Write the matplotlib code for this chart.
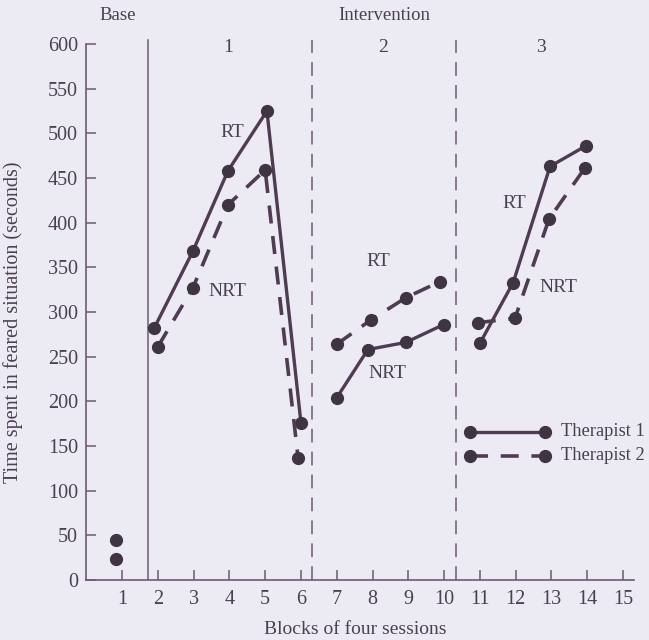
import matplotlib
matplotlib.use("Agg")
import matplotlib.pyplot as plt

# ---- data ----
base_x = [0.82, 0.82]
base_y = [45, 23]

t1_b1_x = [1.9, 2.98, 3.96, 5.05, 6.0]
t1_b1_y = [282, 368, 458, 525, 176]
t2_b1_x = [2.0, 2.98, 3.96, 5.0, 5.92]
t2_b1_y = [261, 327, 420, 459, 137]

t1_b2_x = [7.0, 7.87, 8.93, 9.99]
t1_b2_y = [204, 258, 266, 286]
t2_b2_x = [7.0, 7.95, 8.93, 9.88]
t2_b2_y = [264, 291, 316, 334]

t1_b3_x = [11.0, 11.93, 12.96, 13.96]
t1_b3_y = [265, 333, 463, 486]
t2_b3_x = [10.94, 11.98, 12.93, 13.93]
t2_b3_y = [288, 293, 404, 461]

yticks = list(range(0, 601, 50))
xticks = list(range(1, 16))
phase_lines = [1.73, 6.31, 10.33]

labels = [("RT", 4.07, 501), ("NRT", 3.95, 323),
          ("RT", 8.15, 356), ("NRT", 8.4, 231),
          ("RT", 11.97, 421), ("NRT", 13.2, 327)]

BG = "#ECEBF3"
LC = "#4f3c52"
MC = "#3f3442"
TC = "#4a4052"
VC = "#6d5a74"
SERIF = ["Liberation Serif", "DejaVu Serif"]

plt.rcParams["font.family"] = SERIF

fig = plt.figure(figsize=(6.49, 6.40), dpi=100, facecolor=BG)
ax = fig.add_axes([0.1328, 0.09375, 0.8438, 0.8542], facecolor=BG)
ax.set_xlim(0, 15.3)
ax.set_ylim(0, 612)

for s in ["top", "right"]:
    ax.spines[s].set_visible(False)
ax.spines["left"].set_bounds(0, 600)
for s in ["left", "bottom"]:
    ax.spines[s].set_color(VC)
    ax.spines[s].set_linewidth(1.2)

ax.set_yticks(yticks)
ax.set_xticks(xticks)
ax.tick_params(direction="in", length=7, width=1.1, color=VC, labelcolor=TC,
               labelsize=14.5)
ax.tick_params(axis="x", pad=7)
ax.tick_params(axis="y", pad=6)

# phase lines
ax.plot([phase_lines[0]] * 2, [0, 604], color=VC, lw=1.1)
for xv in phase_lines[1:]:
    ax.plot([xv] * 2, [0, 604], color=VC, lw=1.1, dashes=(9, 6))

mk = dict(marker="o", markersize=8.5, markerfacecolor=MC, markeredgecolor=MC)
ax.plot(base_x, base_y, linestyle="none", **mk)
for x, y in [(t1_b1_x, t1_b1_y), (t1_b2_x, t1_b2_y), (t1_b3_x, t1_b3_y)]:
    ax.plot(x, y, color=LC, lw=2.4, **mk)
for x, y in [(t2_b1_x, t2_b1_y), (t2_b2_x, t2_b2_y), (t2_b3_x, t2_b3_y)]:
    ax.plot(x, y, color=LC, lw=2.6, dashes=(5, 3.5), **mk)

for txt, x, y in labels:
    ax.text(x, y, txt, ha="center", va="center", fontsize=14, color=TC)

# legend drawn manually
ax.plot([10.72, 12.82], [166, 166], color=LC, lw=2.4, **mk)
ax.plot([10.72, 12.82], [139, 139], color=LC, lw=2.6, dashes=(5, 3.5), **mk)
ax.text(13.27, 166, "Therapist 1", ha="left", va="center", fontsize=13.3,
        color=TC, clip_on=False)
ax.text(13.27, 139, "Therapist 2", ha="left", va="center", fontsize=13.3,
        color=TC, clip_on=False)

# phase headings
fig.text(118 / 649, 1 - 15 / 640, "Base", ha="center", va="center",
         fontsize=13.5, color=TC)
fig.text(384 / 649, 1 - 15 / 640, "Intervention", ha="center", va="center",
         fontsize=13.5, color=TC)
for xv, t in [(228, "1"), (383, "2"), (541, "3")]:
    fig.text(xv / 649, 1 - 47 / 640, t, ha="center", va="center",
             fontsize=14, color=TC)

fig.text(355 / 649, 1 - 629 / 640, "Blocks of four sessions", ha="center",
         va="center", fontsize=14, color=TC)
fig.text(13 / 649, 1 - 322 / 640, "Time spent in feared situation (seconds)",
         ha="center", va="center", rotation=90, fontsize=14.5, color=TC)

fig.savefig("out.png", dpi=100, facecolor=BG)
